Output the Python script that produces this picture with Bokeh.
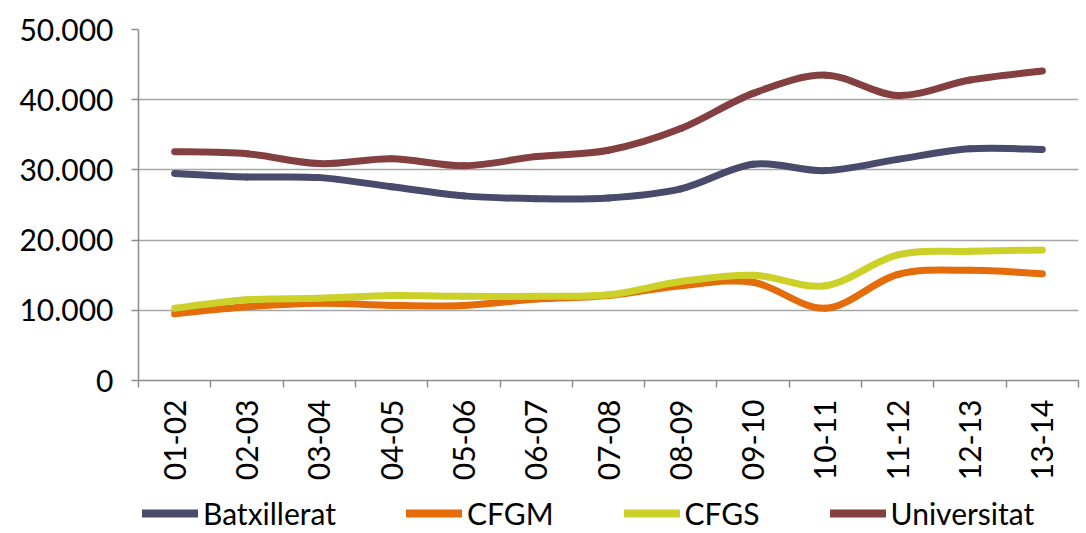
import math
from bokeh.plotting import figure
from bokeh.layouts import column
from bokeh.models import (Range1d, FixedTicker, CustomJSTickFormatter, Legend, LegendItem,
                          ColumnDataSource)
from bokeh.core.properties import value
from bokeh.embed import file_html
from bokeh.resources import INLINE

cursos = ["01-02", "02-03", "03-04", "04-05", "05-06", "06-07", "07-08",
          "08-09", "09-10", "10-11", "11-12", "12-13", "13-14"]
batxillerat = [29500, 29000, 28900, 27600, 26300, 25900, 26000, 27300, 30800, 29900, 31500, 33000, 32900]
cfgm = [9500, 10500, 11000, 10700, 10700, 11600, 12100, 13500, 14000, 10300, 15100, 15700, 15200]
cfgs = [10300, 11500, 11700, 12100, 12000, 12000, 12200, 14100, 15000, 13500, 17900, 18400, 18600]
universitat = [32600, 32300, 30900, 31600, 30600, 31900, 32800, 35900, 40900, 43500, 40600, 42800, 44100]
y_ticks = [0, 10000, 20000, 30000, 40000, 50000]

series = [("Batxillerat", batxillerat, "#484b6b"),
          ("CFGM", cfgm, "#e46c0a"),
          ("CFGS", cfgs, "#ccd12a"),
          ("Universitat", universitat, "#843f40")]

FONT = "Lato"
W = 1084
LEFT, RIGHT = 138, 6
TOP_H = 398
BOT_H = 133
n = len(cursos)

p = figure(width=W, height=TOP_H, output_backend="svg", toolbar_location=None,
           x_range=Range1d(0, n), y_range=Range1d(0, 50000),
           min_border_left=LEFT, min_border_right=RIGHT, min_border_top=29,
           min_border_bottom=18)
p.outline_line_color = None
p.xgrid.grid_line_color = None
p.ygrid.grid_line_color = "#a6a6a6"
p.ygrid.grid_line_width = 1.5
p.ygrid.ticker = FixedTicker(ticks=y_ticks)

# y axis
p.yaxis.ticker = FixedTicker(ticks=y_ticks)
p.yaxis.formatter = CustomJSTickFormatter(code="""
    return tick == 0 ? '0' : (tick/1000).toFixed(0) + '.000';
""")
p.yaxis.axis_line_color = "#8c8c8c"
p.yaxis.axis_line_width = 1.5
p.yaxis.major_tick_line_color = "#8c8c8c"
p.yaxis.major_tick_line_width = 1.5
p.yaxis.major_tick_out = 7
p.yaxis.major_tick_in = 0
p.yaxis.minor_tick_line_color = None
p.yaxis.major_label_text_font = FONT
p.yaxis.major_label_text_font_size = "30px"
p.yaxis.major_label_text_color = "#000000"
p.yaxis.major_label_standoff = 18

# x axis: ticks at category boundaries
p.xaxis.ticker = FixedTicker(ticks=[], minor_ticks=list(range(n + 1)))
p.xaxis.major_tick_line_color = None
p.xaxis.major_tick_out = 0
p.xaxis.minor_tick_line_color = "#8c8c8c"
p.xaxis.minor_tick_line_width = 1.5
p.xaxis.minor_tick_out = 7
p.xaxis.minor_tick_in = 0
p.xaxis.axis_line_color = "#8c8c8c"
p.xaxis.axis_line_width = 1.5
p.xaxis.major_label_text_font_size = "0px"
p.xaxis.major_label_standoff = 0

xs = [i + 0.5 for i in range(n)]

for name, vals, color in series:
    x0, y0, x1, y1, cx0, cy0, cx1, cy1 = [], [], [], [], [], [], [], []
    for i in range(n - 1):
        ip = max(i - 1, 0)
        inn = min(i + 2, n - 1)
        x0.append(xs[i]); y0.append(vals[i])
        x1.append(xs[i + 1]); y1.append(vals[i + 1])
        cx0.append(xs[i] + (xs[i + 1] - xs[ip]) / 6)
        cy0.append(vals[i] + (vals[i + 1] - vals[ip]) / 6)
        cx1.append(xs[i + 1] - (xs[inn] - xs[i]) / 6)
        cy1.append(vals[i + 1] - (vals[inn] - vals[i]) / 6)
    src = ColumnDataSource(dict(x0=x0, y0=y0, x1=x1, y1=y1,
                                cx0=cx0, cy0=cy0, cx1=cx1, cy1=cy1))
    p.bezier(x0="x0", y0="y0", x1="x1", y1="y1", cx0="cx0", cy0="cy0",
             cx1="cx1", cy1="cy1", source=src, line_color=color,
             line_width=7, line_cap="round", line_join="round")

# bottom strip: category labels + legend, sharing the same x scale and frame
q = figure(width=W, height=BOT_H, output_backend="svg", toolbar_location=None,
           x_range=p.x_range, y_range=Range1d(-BOT_H, 0),
           x_axis_type=None, y_axis_type=None,
           min_border_left=LEFT, min_border_right=RIGHT, min_border_top=0,
           min_border_bottom=0)
q.grid.grid_line_color = None
q.outline_line_color = None

q.text(x=xs, y=[-1] * n, text=cursos, angle=math.pi / 2, text_align="right",
       text_baseline="middle", text_font=value(FONT), text_font_size="30px",
       text_color="#000000")

legend_items = []
for name, vals, color in series:
    lr = q.line(x=[xs[0]], y=[0], line_color=color, line_width=8, line_cap="round")
    legend_items.append(LegendItem(label=name, renderers=[lr]))

legend = Legend(items=legend_items, orientation="horizontal", location=(4, 0),
                label_text_font=FONT, label_text_font_size="30px",
                label_text_color="#000000", glyph_width=56, glyph_height=28,
                label_height=28, spacing=70, label_standoff=5, border_line_color=None,
                background_fill_alpha=0, padding=0, margin=0)
q.add_layout(legend, "center")

layout = column(p, q, spacing=0)
open("out.html", "w").write(file_html(layout, INLINE))
